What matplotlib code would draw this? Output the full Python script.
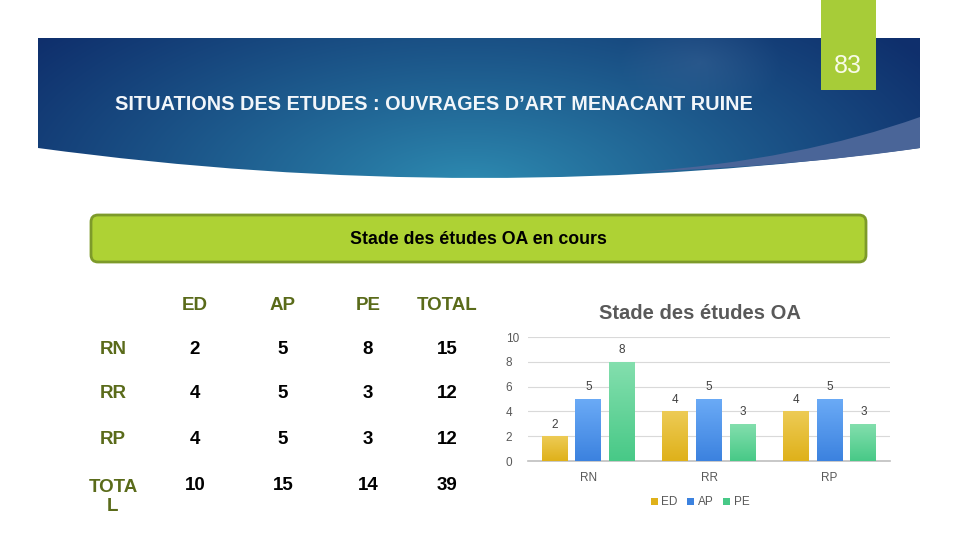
import numpy as np
import matplotlib
matplotlib.use("Agg")
import matplotlib.pyplot as plt
from matplotlib.patches import FancyBboxPatch, Rectangle, PathPatch
from matplotlib.path import Path
from matplotlib.colors import LinearSegmentedColormap, to_rgb

plt.rcParams['font.family'] = ['Liberation Sans', 'DejaVu Sans']

# ---------------- data ----------------
regions = ["RN", "RR", "RP"]
series_names = ["ED", "AP", "PE"]
ed = [2, 4, 4]
ap = [5, 5, 5]
pe = [8, 3, 3]
table_cols = ["ED", "AP", "PE", "TOTAL"]
table_rows = ["RN", "RR", "RP", "TOTA\nL"]
table_vals = [[2, 5, 8, 15], [4, 5, 3, 12], [4, 5, 3, 12], [10, 15, 14, 39]]
slide_title = "SITUATIONS DES ETUDES : OUVRAGES D\u2019ART MENACANT RUINE"
box_text = "Stade des \u00e9tudes OA en cours"
chart_title = "Stade des \u00e9tudes OA"
page_num = "83"

W, H = 960, 540
fig = plt.figure(figsize=(9.6, 5.4), dpi=100)
bg = fig.add_axes([0, 0, 1, 1])
bg.set_xlim(0, W)
bg.set_ylim(H, 0)
bg.axis("off")

# ---- banner with gradient ----
verts = [(38, 38), (920, 38), (920, 148), (480, 208), (38, 148), (38, 38)]
codes = [Path.MOVETO, Path.LINETO, Path.LINETO, Path.CURVE3, Path.CURVE3, Path.CLOSEPOLY]
banner = PathPatch(Path(verts, codes), facecolor="none", edgecolor="none")
bg.add_patch(banner)
yy, xx = np.mgrid[30:190, 30:930]
d = np.sqrt(((xx - 470) / 540.0) ** 2 + ((yy - 190) / 250.0) ** 2)
t = np.clip(d, 0, 1) ** 0.85
c_in = np.array(to_rgb("#2F90B5"))
c_out = np.array(to_rgb("#0F2F6C"))
img = c_in[None, None, :] * (1 - t[..., None]) + c_out[None, None, :] * t[..., None]
# soft highlight
d2 = np.sqrt(((xx - 700) / 80.0) ** 2 + ((yy - 62) / 50.0) ** 2)
hl = np.clip(1 - d2, 0, 1)[..., None] * 0.18
img = img * (1 - hl) + hl * np.array([0.45, 0.55, 0.72])
im = bg.imshow(img, extent=(30, 930, 190, 30), zorder=1, interpolation="bilinear")
im.set_clip_path(banner)

# light wedge bottom right
wv = [(920, 117), (800, 160), (640, 172), (800, 166), (920, 148), (920, 117)]
wc = [Path.MOVETO, Path.CURVE3, Path.CURVE3, Path.CURVE3, Path.CURVE3, Path.CLOSEPOLY]
bg.add_patch(PathPatch(Path(wv, wc), facecolor="#4A6598", edgecolor="none", zorder=2))

# green page tab
bg.add_patch(Rectangle((821, 0), 55, 90, facecolor="#A7CC38", edgecolor="none", zorder=3))
bg.text(848, 66, page_num, color="#F8FBE8", fontsize=18, ha="center", va="center", zorder=4)

bg.text(115, 104, slide_title, color="#F2F6FA", fontsize=14.3, fontweight="bold",
        ha="left", va="center", zorder=4)

# green rounded box
bg.add_patch(FancyBboxPatch((91, 215), 775, 47, boxstyle="round,pad=0,rounding_size=7",
                            facecolor="#AED234", edgecolor="#7D9A2A", linewidth=2, zorder=3))
bg.text(478, 239, box_text, color="black", fontsize=12.8, fontweight="bold",
        ha="center", va="center", zorder=4)

# ---- table ----
col_x = [195, 283, 368, 447]
row_y = [350, 394, 440, 485]
head_col = "#5A6B1A"
for cx, name in zip(col_x, table_cols):
    bg.text(cx, 305, name, color=head_col, fontsize=13.5, fontweight="bold", ha="center", va="center")
for ry, name, vals in zip(row_y, table_rows, table_vals):
    bg.text(113, ry + (12 if "\n" in name else 0), name, color=head_col, fontsize=13.5,
            fontweight="bold", ha="center", va="center", linespacing=1.2)
    for cx, v in zip(col_x, vals):
        bg.text(cx, ry, str(v), color="black", fontsize=13.5, fontweight="bold",
                ha="center", va="center")

# ---- chart ----
ax = fig.add_axes([528 / W, (H - 461) / H, 362 / W, 124 / H])
ax.set_facecolor("none")
x = np.arange(len(regions))
bw = 0.215
step = 0.28
series = [ed, ap, pe]
cols = [("#EDCB55", "#DFB11A"), ("#6AAAF6", "#3C82DF"), ("#84DFAE", "#48C987")]
for i, (vals, name, (ctop, cbot)) in enumerate(zip(series, series_names, cols)):
    bars = ax.bar(x + (i - 1) * step, vals, bw, color=cbot, label=name, zorder=2)
    cmap = LinearSegmentedColormap.from_list("g", [cbot, ctop])
    grad = np.linspace(0, 1, 64).reshape(-1, 1)
    for b in bars:
        bx, by = b.get_x(), b.get_y()
        gi = ax.imshow(grad, cmap=cmap, extent=(bx, bx + b.get_width(), by, by + b.get_height()),
                       origin="lower", aspect="auto", zorder=3)
        gi.set_clip_path(b)
    for xi, v in zip(x + (i - 1) * step, vals):
        ax.text(xi, v + 0.45, str(v), ha="center", va="bottom", fontsize=8.5, color="#404040")

ax.set_xlim(-0.5, 2.5)
ax.set_ylim(0, 10)
ax.set_yticks([0, 2, 4, 6, 8, 10])
ax.set_xticks(x)
ax.set_xticklabels(regions)
ax.tick_params(axis="both", length=0, labelsize=8.5, labelcolor="#595959")
ax.tick_params(axis="x", pad=8)
ax.tick_params(axis="y", pad=16)
for lab in ax.get_yticklabels():
    lab.set_horizontalalignment("left")
ax.grid(axis="y", color="#D9D9D9", linewidth=0.8, zorder=0)
for s in ["top", "right", "left"]:
    ax.spines[s].set_visible(False)
ax.spines["bottom"].set_color("#BFBFBF")
ax.spines["bottom"].set_linewidth(1.2)
ax.set_title(chart_title, fontsize=14.5, fontweight="bold", color="#595959", pad=13, x=0.475)
leg = ax.legend(loc="upper center", bbox_to_anchor=(0.475, -0.2), ncol=3, frameon=False,
                fontsize=8.5, handlelength=0.6, handleheight=0.6, handletextpad=0.3,
                columnspacing=0.8, labelcolor="#595959")

fig.savefig("out.png", dpi=100)
